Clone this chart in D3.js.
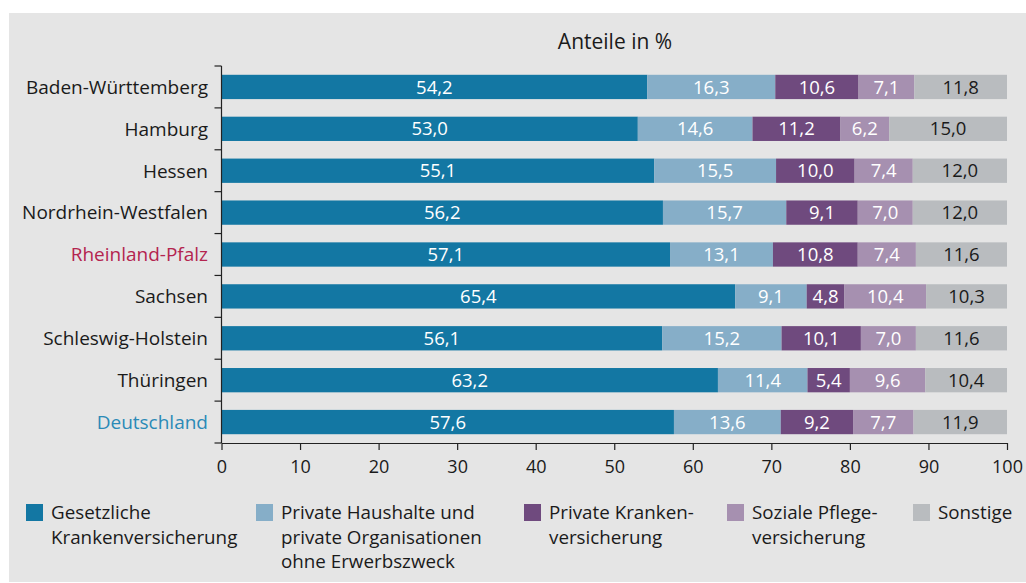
<!DOCTYPE html>
<html>
<head>
<meta charset="utf-8">
<script src="https://cdn.jsdelivr.net/npm/d3@7"></script>
<style>
  body { margin: 0; background: #fff; }
  text { font-family: "Open Sans", "Noto Sans", sans-serif; }
</style>
</head>
<body>
<div id="chart"></div>
<script>
// data
const regions = ["Baden-Württemberg", "Hamburg", "Hessen", "Nordrhein-Westfalen", "Rheinland-Pfalz",
  "Sachsen", "Schleswig-Holstein", "Thüringen", "Deutschland"];
const gkv      = [54.2, 53.0, 55.1, 56.2, 57.1, 65.4, 56.1, 63.2, 57.6];
const privHH   = [16.3, 14.6, 15.5, 15.7, 13.1, 9.1, 15.2, 11.4, 13.6];
const pkv      = [10.6, 11.2, 10.0, 9.1, 10.8, 4.8, 10.1, 5.4, 9.2];
const pflege   = [7.1, 6.2, 7.4, 7.0, 7.4, 10.4, 7.0, 9.6, 7.7];
const sonstige = [11.8, 15.0, 12.0, 12.0, 11.6, 10.3, 11.6, 10.4, 11.9];
const seriesNames = [
  ["Gesetzliche", "Krankenversicherung"],
  ["Private Haushalte und", "private Organisationen", "ohne Erwerbszweck"],
  ["Private Kranken-", "versicherung"],
  ["Soziale Pflege-", "versicherung"],
  ["Sonstige"]
];
const xTicks = [0, 10, 20, 30, 40, 50, 60, 70, 80, 90, 100];

const colors = ["#1377a3", "#86aec8", "#6f4a7e", "#a690b0", "#b9bcbf"];
const textColors = ["#fff", "#fff", "#fff", "#fff", "#1a1a1a"];
const labelColors = {"Rheinland-Pfalz": "#b4244f", "Deutschland": "#2b8ab7"};

const W = 1026, H = 583;
const svg = d3.select("#chart").append("svg")
  .attr("width", W).attr("height", H);

// grey panel
svg.append("rect")
  .attr("x", 9).attr("y", 13).attr("width", W - 9).attr("height", H - 13 - 1)
  .attr("fill", "#e5e5e5");

const keys = ["gkv", "privHH", "pkv", "pflege", "sonstige"];
const rows = regions.map((r, i) => ({
  region: r, gkv: gkv[i], privHH: privHH[i], pkv: pkv[i], pflege: pflege[i], sonstige: sonstige[i]
}));
const stacked = d3.stack().keys(keys)(rows);

const x = d3.scaleLinear().domain([0, 100]).range([221.5, 1007]);
const y = d3.scaleBand().domain(regions).range([66, 443]).paddingInner(0.42).paddingOuter(0.21);

svg.append("text")
  .attr("x", 615).attr("y", 49)
  .attr("text-anchor", "middle")
  .attr("font-size", 21)
  .attr("fill", "#1a1a1a")
  .text("Anteile in %");

// bars
const layers = svg.append("g").selectAll("g")
  .data(stacked)
  .join("g")
  .attr("fill", (d, i) => colors[i]);

layers.selectAll("rect")
  .data(d => d)
  .join("rect")
  .attr("x", d => x(d[0]))
  .attr("y", d => y(d.data.region))
  .attr("width", d => x(d[1]) - x(d[0]))
  .attr("height", y.bandwidth());

layers.each(function(layer, i) {
  d3.select(this).selectAll("text")
    .data(layer)
    .join("text")
    .attr("x", d => (x(d[0]) + x(d[1])) / 2)
    .attr("y", d => y(d.data.region) + y.bandwidth() / 2)
    .attr("dy", "0.36em")
    .attr("text-anchor", "middle")
    .attr("font-size", 18.5)
    .attr("fill", textColors[i])
    .text(d => d3.format(".1f")(d[1] - d[0]).replace(".", ","));
});

// y axis: ticks at band boundaries
const yAxis = svg.append("g");
yAxis.append("line")
  .attr("x1", x(0)).attr("x2", x(0)).attr("y1", 66).attr("y2", 443)
  .attr("stroke", "#222").attr("stroke-width", 1.2);
const bounds = regions.map(r => y(r) - y.step() * y.paddingInner() / 2);
bounds.push(443);
bounds[0] = 66;
yAxis.selectAll("line.tick")
  .data(bounds)
  .join("line")
  .attr("class", "tick")
  .attr("x1", x(0) - 7).attr("x2", x(0))
  .attr("y1", d => d).attr("y2", d => d)
  .attr("stroke", "#222").attr("stroke-width", 1.2);
yAxis.selectAll("text")
  .data(regions)
  .join("text")
  .attr("x", 208)
  .attr("y", d => y(d) + y.bandwidth() / 2)
  .attr("dy", "0.36em")
  .attr("text-anchor", "end")
  .attr("font-size", 19)
  .attr("fill", d => labelColors[d] || "#1a1a1a")
  .text(d => d);

// x axis
const xAxis = svg.append("g")
  .attr("transform", "translate(0,443)")
  .call(d3.axisBottom(x).tickValues(xTicks).tickSize(7).tickSizeOuter(0).tickPadding(10));
xAxis.select(".domain").attr("stroke", "#222").attr("stroke-width", 1.2);
xAxis.selectAll(".tick line").attr("stroke", "#222").attr("stroke-width", 1.2);
xAxis.selectAll(".tick text")
  .attr("font-size", 18)
  .attr("font-family", "'Open Sans', 'Noto Sans', sans-serif")
  .attr("fill", "#1a1a1a");

// legend
const legendX = [26, 256, 524, 727, 913];
const legend = svg.append("g").selectAll("g")
  .data(seriesNames)
  .join("g")
  .attr("transform", (d, i) => `translate(${legendX[i]},504)`);
legend.append("rect")
  .attr("width", 17).attr("height", 17)
  .attr("fill", (d, i) => colors[i]);
legend.append("text")
  .attr("x", 25).attr("y", 15)
  .attr("font-size", 18.8)
  .attr("fill", "#1a1a1a")
  .selectAll("tspan")
  .data(d => d)
  .join("tspan")
  .attr("x", 25)
  .attr("dy", (d, i) => i === 0 ? 0 : 24.5)
  .text(d => d);
</script>
</body>
</html>
